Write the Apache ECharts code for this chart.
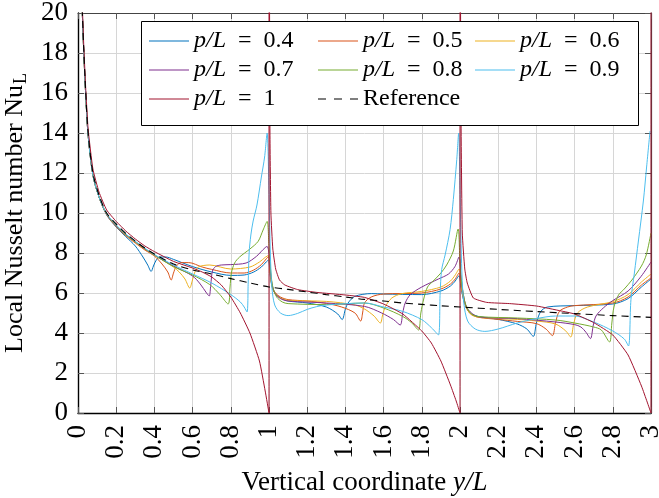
<!DOCTYPE html>
<html>
<head>
<meta charset="utf-8">
<script src="https://cdn.jsdelivr.net/npm/echarts@6/dist/echarts.min.js"></script>
<style>
  html, body { margin: 0; padding: 0; background: #fff; }
  #chart { width: 659px; height: 498px; }
</style>
</head>
<body>
<div id="chart"></div>
<script>
// Local Nusselt number along the wall, periodic heating with pitch ratio p/L
const seriesNames = ['p/L = 0.4', 'p/L = 0.5', 'p/L = 0.6', 'p/L = 0.7', 'p/L = 0.8', 'p/L = 0.9', 'p/L = 1', 'Reference'];

// [y/L, Nu_L] pairs
const nu04 = [[0.015,23],[0.023,19.9],[0.03,18.1],[0.04,16],[0.053,13.9],[0.078,11.9],[0.11,10.8],[0.15,9.9],[0.2,9.3],[0.25,8.82],[0.3,8.35],[0.34,7.8],[0.365,7.4],[0.383,7.08],[0.395,7.35],[0.41,7.65],[0.43,7.8],[0.46,7.8],[0.5,7.68],[0.6,7.32],[0.7,7.05],[0.8,6.88],[0.87,6.9],[0.92,7.05],[0.96,7.3],[0.985,7.55],[0.997,7.65],[1.005,7.0],[1.015,6.35],[1.03,6.0],[1.06,5.75],[1.1,5.6],[1.2,5.5],[1.3,5.3],[1.36,4.95],[1.383,4.67],[1.4,5.2],[1.414,5.5],[1.449,5.83],[1.536,5.97],[1.6,5.95],[1.8,5.92],[1.9,6.1],[1.95,6.35],[1.975,6.6],[1.995,6.87],[2.005,6.3],[2.02,5.6],[2.04,5.15],[2.06,4.95],[2.1,4.82],[2.2,4.68],[2.3,4.45],[2.35,4.2],[2.384,3.83],[2.4,4.5],[2.423,5.08],[2.458,5.3],[2.6,5.37],[2.8,5.45],[2.88,5.72],[2.95,6.3],[3.0,6.7]];
const nu05 = [[0.015,23],[0.023,19.9],[0.03,18.1],[0.04,16],[0.053,13.9],[0.078,11.9],[0.11,10.8],[0.15,9.92],[0.2,9.32],[0.25,8.87],[0.3,8.5],[0.35,8.15],[0.4,7.85],[0.44,7.45],[0.47,7.05],[0.488,6.65],[0.5,7.0],[0.515,7.35],[0.54,7.52],[0.58,7.52],[0.65,7.3],[0.7,7.18],[0.8,7.0],[0.87,7.0],[0.92,7.15],[0.96,7.42],[0.985,7.7],[0.997,7.82],[1.005,7.1],[1.015,6.4],[1.03,6.05],[1.06,5.8],[1.1,5.67],[1.2,5.6],[1.3,5.48],[1.38,5.3],[1.45,5.0],[1.48,4.6],[1.49,5.0],[1.5,5.5],[1.535,5.8],[1.6,5.95],[1.8,6.0],[1.9,6.2],[1.95,6.45],[1.975,6.7],[1.995,7.0],[2.005,6.4],[2.02,5.65],[2.04,5.15],[2.06,4.92],[2.1,4.78],[2.2,4.68],[2.3,4.58],[2.4,4.47],[2.45,4.2],[2.484,3.87],[2.5,4.5],[2.52,5.08],[2.563,5.3],[2.6,5.37],[2.8,5.5],[2.88,5.8],[2.95,6.4],[3.0,6.75]];
const nu06 = [[0.015,23],[0.023,19.9],[0.03,18.1],[0.04,16],[0.053,13.9],[0.078,11.9],[0.11,10.8],[0.15,9.94],[0.2,9.34],[0.25,8.9],[0.3,8.53],[0.35,8.18],[0.4,7.88],[0.45,7.6],[0.5,7.3],[0.53,7.05],[0.56,6.7],[0.585,6.25],[0.598,6.6],[0.61,7.0],[0.63,7.3],[0.69,7.4],[0.8,7.2],[0.9,7.3],[0.95,7.55],[0.98,7.78],[0.997,7.88],[1.005,7.1],[1.015,6.4],[1.03,6.0],[1.06,5.75],[1.1,5.63],[1.3,5.58],[1.45,5.4],[1.5,5.2],[1.55,4.85],[1.583,4.5],[1.595,4.9],[1.61,5.33],[1.643,5.75],[1.696,5.97],[1.8,6.08],[1.9,6.3],[1.95,6.6],[1.975,6.9],[1.995,7.2],[2.005,6.5],[2.02,5.7],[2.04,5.15],[2.06,4.92],[2.1,4.78],[2.3,4.68],[2.4,4.6],[2.5,4.45],[2.554,4.1],[2.58,3.8],[2.595,4.45],[2.615,5.0],[2.668,5.3],[2.8,5.57],[2.88,5.92],[2.95,6.55],[3.0,6.95]];
const nu07 = [[0.015,23],[0.023,19.9],[0.03,18.1],[0.04,16],[0.053,13.9],[0.078,11.9],[0.11,10.8],[0.15,9.95],[0.2,9.36],[0.25,8.92],[0.3,8.56],[0.35,8.2],[0.4,7.9],[0.5,7.35],[0.6,6.85],[0.64,6.45],[0.673,6.0],[0.687,5.85],[0.695,6.4],[0.704,7.1],[0.72,7.32],[0.75,7.4],[0.8,7.42],[0.88,7.5],[0.934,7.83],[0.969,8.17],[0.99,8.33],[0.998,8.1],[1.005,7.3],[1.015,6.5],[1.03,6.0],[1.06,5.72],[1.1,5.6],[1.3,5.5],[1.5,5.33],[1.59,5.0],[1.652,4.67],[1.687,4.4],[1.7,5.0],[1.713,5.5],[1.74,5.92],[1.8,6.3],[1.887,6.7],[1.94,6.95],[1.974,7.33],[1.995,7.8],[2.005,6.8],[2.02,5.8],[2.04,5.2],[2.1,4.8],[2.3,4.72],[2.5,4.55],[2.6,4.42],[2.633,4.3],[2.66,4.03],[2.683,3.72],[2.698,4.4],[2.712,4.85],[2.75,5.25],[2.8,5.62],[2.88,6.1],[2.948,6.83],[3.0,7.55]];
const nu08 = [[0.015,23],[0.023,19.9],[0.03,18.1],[0.04,16],[0.053,13.9],[0.078,11.9],[0.11,10.8],[0.15,9.96],[0.2,9.38],[0.25,8.93],[0.3,8.57],[0.35,8.22],[0.4,7.9],[0.5,7.32],[0.6,6.9],[0.69,6.42],[0.743,5.92],[0.786,5.45],[0.796,6.3],[0.803,7.0],[0.82,7.5],[0.846,7.8],[0.9,8.2],[0.943,8.58],[0.969,9.15],[0.99,9.58],[1.0,8.3],[1.01,7.0],[1.02,6.3],[1.04,5.8],[1.07,5.55],[1.1,5.47],[1.3,5.42],[1.5,5.5],[1.6,5.25],[1.7,4.83],[1.748,4.5],[1.783,4.15],[1.795,5.0],[1.81,5.7],[1.83,6.3],[1.86,6.6],[1.9,7.0],[1.93,7.4],[1.965,8.1],[1.99,9.2],[2.0,7.5],[2.01,6.4],[2.03,5.4],[2.06,4.95],[2.1,4.82],[2.3,4.75],[2.5,4.65],[2.6,4.5],[2.7,4.3],[2.74,4.15],[2.783,3.55],[2.795,4.5],[2.806,5.3],[2.83,5.9],[2.86,6.2],[2.9,6.65],[2.95,7.35],[2.975,7.9],[3.0,9.0]];
const nu09 = [[0.015,23],[0.023,19.9],[0.03,18.1],[0.04,16],[0.053,13.9],[0.078,11.9],[0.11,10.8],[0.15,9.97],[0.2,9.4],[0.25,8.95],[0.3,8.58],[0.35,8.24],[0.4,7.92],[0.5,7.4],[0.6,6.95],[0.7,6.5],[0.8,5.92],[0.85,5.55],[0.87,5.3],[0.885,5.05],[0.891,6.5],[0.896,8.0],[0.905,8.9],[0.917,9.6],[0.937,10.4],[0.96,11.8],[0.977,12.8],[0.99,14.0],[1.0,11],[1.007,8],[1.015,6.3],[1.03,5.4],[1.06,5.0],[1.1,4.87],[1.15,4.98],[1.2,5.18],[1.25,5.32],[1.3,5.4],[1.5,5.5],[1.6,5.3],[1.7,5.08],[1.8,4.67],[1.852,4.25],[1.887,3.9],[1.896,6.0],[1.904,7.17],[1.922,7.9],[1.948,9.17],[1.965,10.67],[1.983,12.67],[1.993,14],[2.0,11],[2.01,7],[2.02,5.5],[2.04,4.6],[2.08,4.2],[2.13,4.08],[2.2,4.2],[2.3,4.5],[2.4,4.72],[2.5,4.85],[2.6,4.85],[2.7,4.55],[2.8,4.1],[2.86,3.7],[2.882,3.35],[2.895,5.67],[2.913,7.0],[2.934,8.6],[2.96,10.6],[2.977,12.3],[2.995,14.1]];
const nu10 = [[0.015,23.4],[0.023,20.3],[0.03,18.4],[0.04,16.3],[0.053,14.2],[0.078,12.2],[0.11,11.05],[0.15,10.15],[0.2,9.58],[0.25,9.1],[0.3,8.7],[0.35,8.35],[0.4,8.07],[0.5,7.58],[0.6,7.25],[0.65,7.05],[0.7,6.8],[0.75,6.4],[0.8,5.8],[0.85,5.0],[0.9,4.0],[0.95,2.6],[0.98,1.1],[1.0,0],[1.0,40],[1.003,20],[1.005,14],[1.01,10],[1.02,8.2],[1.035,7.2],[1.055,6.65],[1.083,6.4],[1.15,6.17],[1.25,6.03],[1.4,5.9],[1.5,5.78],[1.6,5.45],[1.7,4.95],[1.8,4.1],[1.85,3.5],[1.9,2.6],[1.95,1.4],[1.98,0.6],[2.0,0],[2.0,40],[2.003,20],[2.006,14],[2.012,9],[2.025,7.2],[2.038,6.5],[2.07,5.75],[2.14,5.53],[2.26,5.47],[2.4,5.35],[2.53,5.1],[2.6,4.95],[2.7,4.52],[2.8,3.9],[2.88,2.9],[2.95,1.35],[2.98,0.55],[3.0,0],[3.0,40]];
const nuRef = [[0.015,23.2],[0.023,20],[0.03,18.2],[0.04,16.1],[0.053,14],[0.078,12],[0.11,10.9],[0.15,10],[0.2,9.45],[0.25,8.98],[0.3,8.6],[0.35,8.25],[0.4,7.95],[0.5,7.45],[0.6,7.15],[0.7,6.95],[0.8,6.72],[0.9,6.5],[1.0,6.3],[1.1,6.18],[1.2,6.05],[1.3,5.92],[1.4,5.8],[1.5,5.68],[1.6,5.6],[1.7,5.5],[1.8,5.43],[1.9,5.36],[2.0,5.3],[2.2,5.18],[2.4,5.07],[2.6,4.97],[2.8,4.87],[3.0,4.78]];

const seriesData = [nu04, nu05, nu06, nu07, nu08, nu09, nu10, nuRef];
const lineColors = ['#0072BD', '#D95319', '#EDB120', '#7E2F8E', '#77AC30', '#4DBEEE', '#A2142F', '#000000'];

const FONT = '"Liberation Serif", "DejaVu Serif", serif';

// legend glyphs: a thin bar for solid lines, three short bars for the dashed one
const SOLID_ICON = 'path://M0,0h40v1h-40z';
const DASH_ICON = 'path://M0,0h8v1h-8z M16,0h8v1h-8z M32,0h8v1h-8z';

const series = seriesData.map((d, i) => ({
  name: seriesNames[i],
  type: 'line',
  data: d,
  symbol: 'none',
  smooth: i === 6 ? 0.15 : 0.3,
  clip: true,
  lineStyle: {
    color: lineColors[i],
    width: i === 7 ? 1.1 : 1,
    type: i === 7 ? [7, 5] : 'solid'
  },
  itemStyle: { color: lineColors[i] },
  emphasis: { disabled: true }
}));

const legendText = {
  color: '#000',
  fontFamily: FONT,
  fontSize: 24,
  rich: {
    i: { fontFamily: FONT, fontStyle: 'italic', fontSize: 24, lineHeight: 26, color: '#000' },
    n: { fontFamily: FONT, fontSize: 24, lineHeight: 26, color: '#000' }
  }
};
function legendLabel(name) {
  if (name.indexOf('p/L') === 0) {
    return '{i|p/L}{n|\u2002=\u2002' + name.split('= ')[1] + '}';
  }
  return '{n|' + name + '}';
}
function makeLegend(left, names) {
  return {
    orient: 'vertical',
    left: left,
    top: 29,
    itemWidth: 40,
    itemHeight: 1.2,
    itemGap: 5,
    padding: 0,
    z: 6,
    selectedMode: false,
    data: names.map(n => ({ name: n, icon: n === 'Reference' ? DASH_ICON : SOLID_ICON })),
    formatter: legendLabel,
    textStyle: legendText
  };
}

const axisFmt = v => String(Math.round(v * 10) / 10);

const option = {
  animation: false,
  backgroundColor: '#ffffff',
  grid: { left: 78, right: 8, top: 13, bottom: 85, containLabel: false, outerBoundsMode: 'none' },
  xAxis: [{
    type: 'value', min: 0, max: 3, interval: 0.2, position: 'bottom',
    name: '{r|Vertical coordinate }{i|y/L}',
    nameLocation: 'middle', nameGap: 56,
    nameTextStyle: {
      rich: {
        r: { fontFamily: FONT, fontSize: 27, color: '#000' },
        i: { fontFamily: FONT, fontSize: 27, fontStyle: 'italic', color: '#000' }
      }
    },
    axisLine: { show: true, onZero: false, lineStyle: { color: '#000', width: 1.4 } },
    axisTick: { show: true, inside: true, length: 6, lineStyle: { color: '#555', width: 1 } },
    axisLabel: { rotate: 90, margin: 12, formatter: axisFmt, fontFamily: FONT, fontSize: 27, color: '#000' },
    splitLine: { show: true, lineStyle: { color: '#d6d6d6', width: 1 } }
  }, {
    type: 'value', min: 0, max: 3, interval: 0.2, position: 'top',
    axisLine: { show: true, onZero: false, lineStyle: { color: '#444', width: 1.2 } },
    axisTick: { show: true, inside: true, length: 6, lineStyle: { color: '#555', width: 1 } },
    axisLabel: { show: false },
    splitLine: { show: false }
  }],
  yAxis: [{
    type: 'value', min: 0, max: 20, interval: 2, position: 'left',
    name: '{a|Local Nusselt number Nu}{s|L}',
    nameLocation: 'middle', nameGap: 47, nameRotate: 90,
    nameTextStyle: {
      rich: {
        a: { fontFamily: FONT, fontSize: 26, lineHeight: 30, color: '#000' },
        s: { fontFamily: FONT, fontSize: 18, lineHeight: 18, padding: [12, 0, 0, 1], color: '#000' }
      }
    },
    axisLine: { show: true, onZero: false, lineStyle: { color: '#000', width: 1.4 } },
    axisTick: { show: true, inside: true, length: 6, lineStyle: { color: '#555', width: 1 } },
    axisLabel: { margin: 10, formatter: axisFmt, fontFamily: FONT, fontSize: 27, color: '#000' },
    splitLine: { show: true, lineStyle: { color: '#d6d6d6', width: 1 } }
  }, {
    type: 'value', min: 0, max: 20, interval: 2, position: 'right',
    axisLine: { show: true, onZero: false, lineStyle: { color: '#444', width: 1.2 } },
    axisTick: { show: true, inside: true, length: 6, lineStyle: { color: '#555', width: 1 } },
    axisLabel: { show: false },
    splitLine: { show: false }
  }],
  legend: [
    makeLegend(149, [seriesNames[0], seriesNames[3], seriesNames[6]]),
    makeLegend(318, [seriesNames[1], seriesNames[4], seriesNames[7]]),
    makeLegend(475, [seriesNames[2], seriesNames[5]])
  ],
  graphic: [{
    type: 'rect',
    z: 5,
    shape: { x: 141.5, y: 21.5, width: 497, height: 104 },
    style: { fill: '#ffffff', stroke: '#000000', lineWidth: 1 }
  }],
  series: series
};

const chart = echarts.init(document.getElementById('chart'), null, { renderer: 'canvas' });
chart.setOption(option);
</script>
</body>
</html>
